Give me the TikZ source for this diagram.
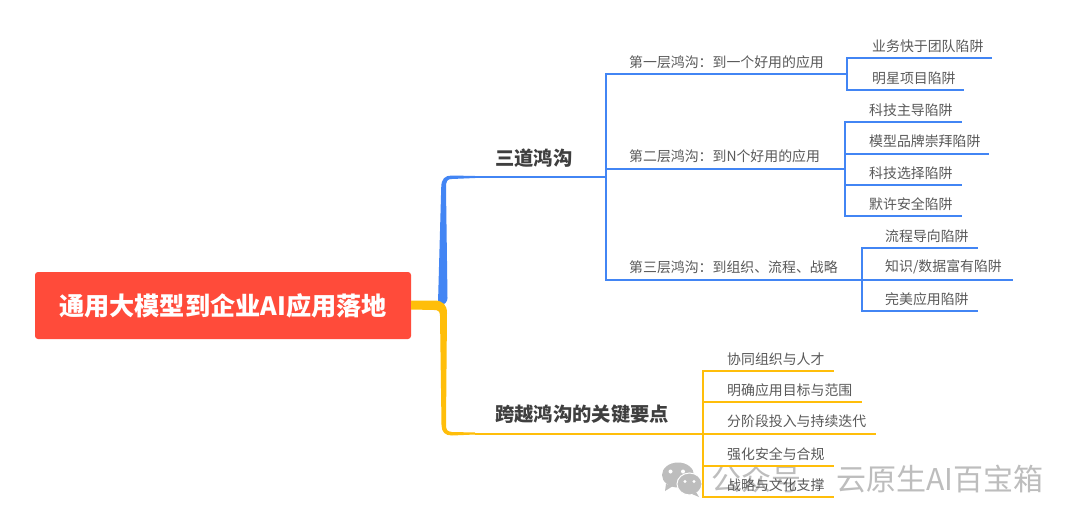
\documentclass[tikz,border=0pt]{standalone}
\usepackage{fontspec}
\setmainfont{Noto Sans CJK SC}
\definecolor{bluebr}{HTML}{4285F4}
\definecolor{yellowbr}{HTML}{FFBE0A}
\definecolor{rootred}{HTML}{FF4B3A}
\definecolor{txt}{HTML}{595959}
\definecolor{midtxt}{HTML}{3F3F3F}
\definecolor{wm}{HTML}{BDBDBD}
\tikzset{
 leaf/.style={inner sep=0pt,minimum height=24pt,anchor=south west,align=left,text=txt,font=\fontsize{13.9pt}{16pt}\selectfont},
 topic/.style={inner sep=0pt,minimum height=38pt,anchor=south west,align=left,text=midtxt,font=\fontsize{19.3pt}{22pt}\selectfont\bfseries},
 rootbox/.style={fill=rootred,rounded corners=3pt,inner sep=0pt,minimum width=376pt,minimum height=67pt,text=white,font=\fontsize{25.2pt}{28pt}\selectfont\bfseries},
 bl/.style={draw=bluebr,line width=2pt},
 yl/.style={draw=yellowbr,line width=2pt},
 wmtext/.style={inner sep=0pt,text=wm,anchor=west,font=\fontsize{30pt}{32pt}\selectfont},
}
\begin{document}
\begin{tikzpicture}[x=1pt,y=-1pt]
\useasboundingbox (0,0) rectangle (1080,522);
\fill[white] (0,0) rectangle (1080,522);
% watermark
\fill[wm] (678,475) ellipse (16 and 12.5);
\fill[wm] (666,484) -- (665,491) -- (673,486) -- cycle;
\fill[white] (670.5,471.5) circle (2);
\fill[white] (683,471.5) circle (2);
\fill[wm, draw=white, line width=1pt] (689.5,484) ellipse (12.5 and 11);
\fill[wm] (696,492) -- (699,497) -- (692,494) -- cycle;
\fill[white] (685,481.5) circle (1.6);
\fill[white] (694,481.5) circle (1.6);
\node[wmtext] (wm1) at (711,479) {公众号};
\node[wmtext] (wm3) at (836,479) {云原生AI百宝箱};
% root
\node[rootbox] (root) at (223,305.5) {通用大模型到企业AI应用落地};
% topics
\node[topic,text width=111pt] (t1) at (495,177) {三道鸿沟};
\node[topic,text width=208pt] (t2) at (495,433.5) {跨越鸿沟的关键要点};
% level 2
\node[leaf,text width=218pt] (a1) at (629,74) {第一层鸿沟\char"FF1A 到一个好用的应用};
\node[leaf,text width=216pt] (a2) at (629,168.5) {第二层鸿沟\char"FF1A 到N个好用的应用};
\node[leaf,text width=233pt] (a3) at (629,279.5) {第三层鸿沟\char"FF1A 到组织、流程、战略};
% leaves
\node[leaf,text width=120pt] (b1) at (872,58) {业务快于团队陷阱};
\node[leaf,text width=92pt] (b2) at (872,90) {明星项目陷阱};
\node[leaf,text width=93pt] (c1) at (869,122) {科技主导陷阱};
\node[leaf,text width=120pt] (c2) at (869,153.5) {模型品牌崇拜陷阱};
\node[leaf,text width=93pt] (c3) at (869,185) {科技选择陷阱};
\node[leaf,text width=93pt] (c4) at (869,216) {默许安全陷阱};
\node[leaf,text width=93pt] (d1) at (885,248) {流程导向陷阱};
\node[leaf,text width=128pt] (d2) at (885,279.5) {知识/数据富有陷阱};
\node[leaf,text width=93pt] (d3) at (885,311) {完美应用陷阱};
\node[leaf,text width=107pt] (e1) at (727,371) {协同组织与人才};
\node[leaf,text width=135pt] (e2) at (727,402) {明确应用目标与范围};
\node[leaf,text width=149pt] (e3) at (727,433.5) {分阶段投入与持续迭代};
\node[leaf,text width=107pt] (e4) at (727,466) {强化安全与合规};
\node[leaf,text width=107pt] (e5) at (727,497) {战略与文化支撑};
% main branches
\coordinate (bs) at (441,303);
\coordinate (ys) at (411,305);
\fill[bluebr] (bs) ++(-3,0) -- (441.2,188) .. controls (441.2,178.5) and (445,175.5) .. (452,175.5) -- (475,176) -- (475,178) -- (452,179)
 .. controls (447,179) and (446,181) .. (446,188) -- (447.5,298) .. controls (447.5,301) and (445,305) .. (441,305) -- cycle;
\draw[bl] (475,177) -- (t1.south east);
\fill[yellowbr] (ys) ++(0,-4.5) -- (434,300.5) .. controls (443,300.5) and (447,305) .. (447,313) -- (446,424) .. controls (446,430) and (447,431.5) .. (452,432) -- (475,432.5) -- (475,434.5) -- (452,435.5) .. controls (445,435.5) and (441.5,432) .. (441.5,425) -- (440,316) .. controls (440,311) and (438,310) .. (434,310) -- (411,309.5) -- cycle;
\draw[yl] (475,433.5) -- (t2.south east);
% blue level 2
\draw[bl] (t1.south east) |- (a1.south east);
\draw[bl] (t1.south east) |- (a2.south east);
\draw[bl] (t1.south east) |- (a3.south east);
\draw[bl] (a1.south east) |- (b1.south east);
\draw[bl] (a1.south east) |- (b2.south east);
\draw[bl] (a2.south east) |- (c1.south east);
\draw[bl] (a2.south east) |- (c2.south east);
\draw[bl] (a2.south east) |- (c3.south east);
\draw[bl] (a2.south east) |- (c4.south east);
\draw[bl] (a3.south east) |- (d1.south east);
\draw[bl] (a3.south east) |- (d2.south east);
\draw[bl] (a3.south east) |- (d3.south east);
% yellow
\draw[yl] (t2.south east) |- (e1.south east);
\draw[yl] (t2.south east) |- (e2.south east);
\draw[yl] (t2.south east) |- (e3.south east);
\draw[yl] (t2.south east) |- (e4.south east);
\draw[yl] (t2.south east) |- (e5.south east);
\end{tikzpicture}
\end{document}
